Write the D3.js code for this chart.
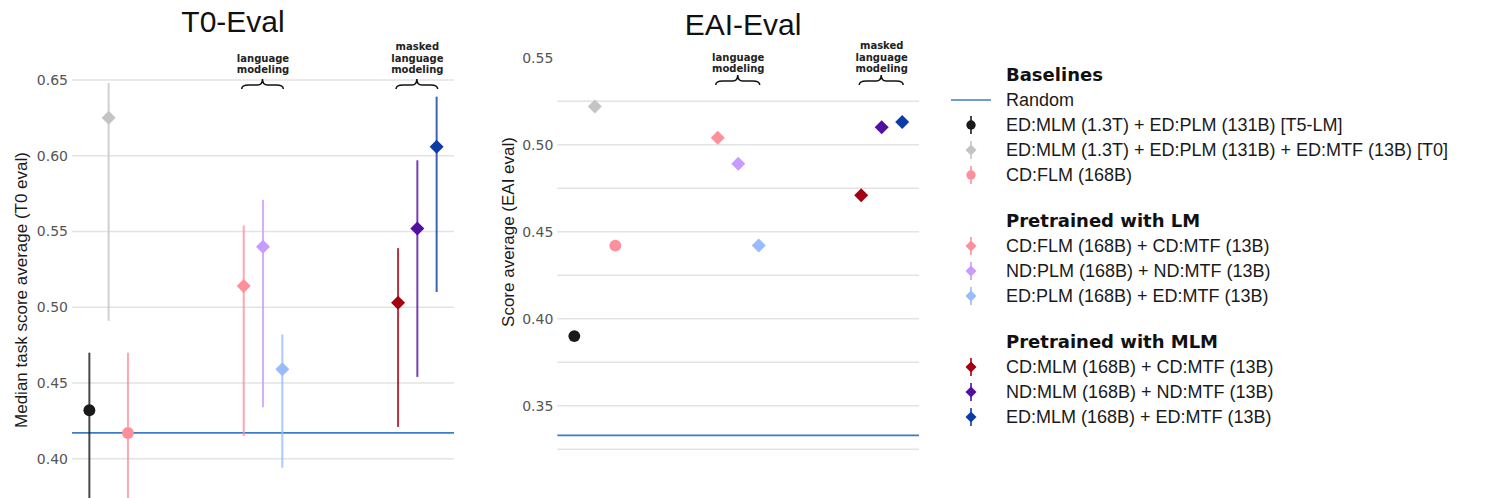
<!DOCTYPE html>
<html>
<head>
<meta charset="utf-8">
<script src="https://cdn.jsdelivr.net/npm/d3@7"></script>
<style>
body { margin: 0; background: #fff; }
text { font-family: 'Liberation Sans', Arial, sans-serif; }
.tick text { font-family: 'DejaVu Sans', sans-serif; font-size: 14px; fill: #555; }
.note { font-family: 'DejaVu Sans', sans-serif; font-weight: bold; font-size: 10px; fill: #222; }
.head { font-family: 'DejaVu Sans', sans-serif; font-weight: bold; font-size: 18px; fill: #111; }
</style>
</head>
<body>
<div id="chart"></div>
<script>
// models, in plotting order
var models = [
  'ED:MLM (1.3T) + ED:PLM (131B) [T5-LM]',
  'ED:MLM (1.3T) + ED:PLM (131B) + ED:MTF (13B) [T0]',
  'CD:FLM (168B)',
  'CD:FLM (168B) + CD:MTF (13B)',
  'ND:PLM (168B) + ND:MTF (13B)',
  'ED:PLM (168B) + ED:MTF (13B)',
  'CD:MLM (168B) + CD:MTF (13B)',
  'ND:MLM (168B) + ND:MTF (13B)',
  'ED:MLM (168B) + ED:MTF (13B)'
];
var groups = [0, 0, 0, 1, 1, 1, 2, 2, 2];
var groupNames = ['Baselines', 'Pretrained with LM', 'Pretrained with MLM'];
var shapes = ['circle', 'diamond', 'circle', 'diamond', 'diamond', 'diamond', 'diamond', 'diamond', 'diamond'];
var colors = ['#1a1a1a', '#c4c4c4', '#ff8f9b', '#ff8f9b', '#c79bff', '#99bbff', '#a30012', '#5210a3', '#0d3ca8'];

// T0 eval: median and range
var t0Mid = [0.432, 0.625, 0.417, 0.514, 0.540, 0.459, 0.503, 0.552, 0.606];
var t0Lo  = [0.36, 0.491, 0.36, 0.415, 0.434, 0.394, 0.421, 0.454, 0.510];
var t0Hi  = [0.470, 0.648, 0.470, 0.554, 0.571, 0.482, 0.539, 0.597, 0.639];
var t0Random = 0.417;
var t0Ticks = [0.40, 0.45, 0.50, 0.55, 0.60, 0.65];
var t0Grid = [0.40, 0.45, 0.50, 0.55, 0.60, 0.65];

// EAI eval: score average
var eaiMid = [0.390, 0.522, 0.442, 0.504, 0.489, 0.442, 0.471, 0.510, 0.513];
var eaiRandom = 0.333;
var eaiTicks = [0.35, 0.40, 0.45, 0.50, 0.55];
var eaiGrid = [0.325, 0.35, 0.375, 0.40, 0.425, 0.45, 0.475, 0.50, 0.525];

var W = 1493, H = 498;

var svg = d3.select('#chart').append('svg')
  .attr('width', W)
  .attr('height', H);

function marker(g, shape, color, r) {
  if (shape === 'circle') {
    g.append('circle').attr('r', r * 0.85).attr('fill', color);
  } else {
    g.append('path')
      .attr('d', 'M0,' + (-r) + 'L' + r + ',0L0,' + r + 'L' + (-r) + ',0Z')
      .attr('fill', color);
  }
}

// curly brace pointing up
function brace(g, x1, x2, yb, yt) {
  var xm = (x1 + x2) / 2, ym = (yb + yt) / 2 + 1;
  g.append('path')
    .attr('d', 'M' + x1 + ',' + yb + 'Q' + x1 + ',' + ym + ' ' + (x1 + 7) + ',' + ym +
      'L' + (xm - 5) + ',' + ym + 'Q' + xm + ',' + ym + ' ' + xm + ',' + yt +
      'Q' + xm + ',' + ym + ' ' + (xm + 5) + ',' + ym +
      'L' + (x2 - 7) + ',' + ym + 'Q' + x2 + ',' + ym + ' ' + x2 + ',' + yb)
    .attr('fill', 'none')
    .attr('stroke', '#111')
    .attr('stroke-width', 1.5);
}

function panel(cfg) {
  var g = svg.append('g');
  var x = d3.scaleLinear().domain(cfg.xDomain).range(cfg.xRange);
  var y = d3.scaleLinear().domain(cfg.yDomain).range(cfg.yRange);
  var slot = (d, i) => groups[i] * cfg.step + (i - groups[i] * 3);

  // grid
  g.selectAll('.grid')
    .data(cfg.grid)
    .enter()
    .append('line')
    .attr('x1', cfg.xRange[0])
    .attr('x2', cfg.xRange[1])
    .attr('y1', d => y(d))
    .attr('y2', d => y(d))
    .attr('stroke', '#e3e3e3')
    .attr('stroke-width', 1.5);

  var yAxis = d3.axisLeft(y)
    .tickValues(cfg.ticks)
    .tickSize(0)
    .tickPadding(4)
    .tickFormat(d3.format('.2f'));

  g.append('g')
    .attr('transform', 'translate(' + cfg.xRange[0] + ',0)')
    .call(yAxis)
    .call(a => a.select('.domain').remove());

  // random baseline
  g.append('line')
    .attr('x1', cfg.xRange[0])
    .attr('x2', cfg.xRange[1])
    .attr('y1', y(cfg.random))
    .attr('y2', y(cfg.random))
    .attr('stroke', '#3b7dc4')
    .attr('stroke-width', 1.8);

  // ranges
  if (cfg.lo) {
    g.selectAll('.range')
      .data(cfg.mid)
      .enter()
      .append('line')
      .attr('x1', (d, i) => x(slot(d, i)))
      .attr('x2', (d, i) => x(slot(d, i)))
      .attr('y1', (d, i) => y(cfg.lo[i]))
      .attr('y2', (d, i) => y(cfg.hi[i]))
      .attr('stroke', (d, i) => colors[i])
      .attr('stroke-opacity', 0.8)
      .attr('stroke-width', 2);
  }

  // points
  cfg.mid.forEach((d, i) => {
    var p = g.append('g')
      .attr('transform', 'translate(' + x(slot(d, i)) + ',' + y(d) + ')');
    marker(p, shapes[i], colors[i], 7);
  });

  // title
  g.append('text')
    .attr('x', cfg.titleX)
    .attr('y', cfg.titleY)
    .attr('text-anchor', 'middle')
    .style('font-size', '30px')
    .attr('fill', '#111')
    .text(cfg.title);

  // y label
  g.append('text')
    .attr('transform', 'translate(' + cfg.labelX + ',' + cfg.labelY + ') rotate(-90)')
    .attr('text-anchor', 'middle')
    .style('font-size', '17px')
    .attr('fill', '#1a1a1a')
    .text(cfg.label);

  // group notes
  var notes = [null, ['language', 'modeling'], ['masked', 'language', 'modeling']];
  [1, 2].forEach(k => {
    var xc = x(k * cfg.step + 1);
    var lines = notes[k];
    lines.forEach((t, j) => {
      g.append('text')
        .attr('class', 'note')
        .attr('x', xc)
        .attr('y', cfg.noteY - (lines.length - 1 - j) * 11.5)
        .attr('text-anchor', 'middle')
        .text(t);
    });
    brace(g, x(k * cfg.step) - 2, x(k * cfg.step + 2) + 1, cfg.braceY + 10, cfg.braceY);
  });
}

panel({
  title: 'T0-Eval', titleX: 233, titleY: 32,
  label: 'Median task score average (T0 eval)', labelX: 27, labelY: 290,
  xDomain: [-0.9, 18.9], xRange: [72, 454], step: 8,
  yDomain: [0.40, 0.65], yRange: [458.7, 80],
  ticks: t0Ticks, grid: t0Grid, random: t0Random,
  mid: t0Mid, lo: t0Lo, hi: t0Hi,
  noteY: 73, braceY: 79
});

panel({
  title: 'EAI-Eval', titleX: 743, titleY: 35,
  label: 'Score average (EAI eval)', labelX: 514, labelY: 232,
  xDomain: [-0.83, 16.82], xRange: [557.3, 919], step: 7,
  yDomain: [0.35, 0.55], yRange: [405.7, 57.7],
  ticks: eaiTicks, grid: eaiGrid, random: eaiRandom,
  mid: eaiMid,
  noteY: 72, braceY: 75
});

///////////////////////////////////////////////////////////////
// legend
///////////////////////////////////////////////////////////////
var leg = svg.append('g');
var ly = 75, keyX = 971, textX = 1006;
groupNames.forEach((name, k) => {
  leg.append('text')
    .attr('class', 'head')
    .attr('x', textX)
    .attr('y', ly)
    .attr('dy', '0.36em')
    .text(name);
  ly += 25;
  if (k === 0) {
    leg.append('line')
      .attr('x1', keyX - 20).attr('x2', keyX + 20)
      .attr('y1', ly).attr('y2', ly)
      .attr('stroke', '#3b7dc4').attr('stroke-width', 1.6);
    leg.append('text')
      .attr('x', textX).attr('y', ly).attr('dy', '0.35em')
      .style('font-size', '18px').attr('fill', '#1a1a1a')
      .text('Random');
    ly += 25;
  }
  models.forEach((m, i) => {
    if (groups[i] !== k) return;
    var kg = leg.append('g').attr('transform', 'translate(' + keyX + ',' + ly + ')');
    kg.append('line')
      .attr('y1', -9).attr('y2', 9)
      .attr('stroke', colors[i]).attr('stroke-width', 1.6);
    marker(kg, shapes[i], colors[i], 5.5);
    leg.append('text')
      .attr('x', textX).attr('y', ly).attr('dy', '0.35em')
      .style('font-size', '18px').attr('fill', '#1a1a1a')
      .text(m);
    ly += 25;
  });
  ly += 21;
});
</script>
</body>
</html>
